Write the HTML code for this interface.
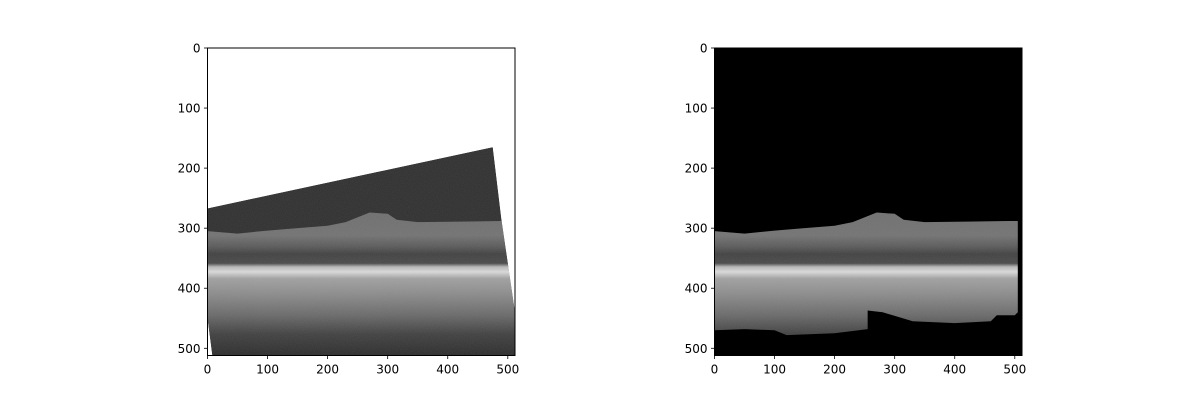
<!DOCTYPE html>
<html><head><meta charset="utf-8"><style>
html,body{margin:0;padding:0;background:#fff;width:1200px;height:400px;overflow:hidden}
text{font-family:"DejaVu Sans","Liberation Sans",sans-serif;font-size:12px;fill:#000}
</style></head><body>
<svg id="fig" width="1200" height="400" xmlns="http://www.w3.org/2000/svg">
<defs>
<linearGradient id="ret" gradientUnits="userSpaceOnUse" x1="0" y1="0" x2="0" y2="512">
<stop offset="0.53" stop-color="#6c6c6c"/><stop offset="0.61" stop-color="#707070"/>
<stop offset="0.645" stop-color="#575757"/><stop offset="0.67" stop-color="#3c3c3c"/>
<stop offset="0.7" stop-color="#454545"/><stop offset="0.712" stop-color="#b8b8b8"/>
<stop offset="0.728" stop-color="#dcdcdc"/><stop offset="0.75" stop-color="#a0a0a0"/>
<stop offset="0.8" stop-color="#8a8a8a"/><stop offset="0.87" stop-color="#666"/>
<stop offset="0.93" stop-color="#3c3c3c"/><stop offset="1" stop-color="#262626"/>
</linearGradient>
<filter id="noise" x="0" y="0" width="1" height="1"><feTurbulence type="fractalNoise" baseFrequency="0.9" numOctaves="1" seed="3" result="t"/><feColorMatrix in="t" type="matrix" values="0 0 0 0 0.5 0 0 0 0 0.5 0 0 0 0 0.5 0 0 0 0.5 0" result="n"/><feComposite in="n" in2="SourceAlpha" operator="in"/></filter>
<clipPath id="clipR"><rect x="0" y="0" width="512" height="512"/></clipPath>
<clipPath id="clipScan"><polygon id="scanClipPoly" points="0,0"/></clipPath>
</defs>
<g id="panelL"></g>
<g id="panelR"></g>
</svg>
<script>
// retina top boundary (image coords x,y)
const topX=[0,50,100,150,200,230,255,270,300,315,350,420,490,505];
const topY=[305,309,304,300,296,290,280,274,276,286,290,289,288,288];
// rotated scan quadrilateral (left image)
const scanX=[0,475,490,512,512,8,0];
const scanY=[267,165,290,440,512,512,450];
// right image bottom boundary of valid region
const botX=[505,500,470,460,400,330,280,255,255,200,120,100,50,0];
const botY=[440,445,445,455,458,455,440,437,468,475,478,470,468,470];
const ticks=[0,100,200,300,400,500];
const NS="http://www.w3.org/2000/svg";
const S=307.5/512;
function mk(tag,attrs,parent){const e=document.createElementNS(NS,tag);for(const k in attrs)e.setAttribute(k,attrs[k]);parent.appendChild(e);return e;}
function poly(xs,ys){return xs.map((x,i)=>x+','+ys[i]).join(' ');}
document.getElementById('scanClipPoly').setAttribute('points',poly(scanX,scanY));
function panel(g,ox,oy,right){
  const inner=mk('g',{transform:`translate(${ox},${oy}) scale(${S})`,'clip-path':right?'url(#clipR)':'url(#clipScan)'},g);
  
  
  let retinaPts;
  if(!right){
    const bg=mk('polygon',{points:poly(scanX,scanY),fill:'#2a2a2a'},inner);
    
    
    retinaPts=topX.map((x,i)=>x+','+topY[i]).join(' ')+' 512,440 512,512 8,512 0,450';
  } else {
    const bg=mk('rect',{x:0,y:0,width:512,height:512,fill:'#000'},inner);
    
    
    retinaPts=topX.map((x,i)=>x+','+topY[i]).join(' ')+' '+botX.map((x,i)=>x+','+botY[i]).join(' ');
  }
  const r=mk('polygon',{points:retinaPts,fill:'url(#ret)'},inner);
  
  
  const n=mk('polygon',{points:right?retinaPts:poly(scanX,scanY),fill:'#fff',filter:'url(#noise)',opacity:0.4},inner);
  
  
  const fr=mk('rect',{x:ox,y:oy,width:307.5,height:307.5,fill:'none',stroke:'#000','stroke-width':1},g);
  
  
  ticks.forEach(t=>{
    const px=ox+t*S, py=oy+t*S;
    mk('line',{x1:px,y1:oy+307.5,x2:px,y2:oy+311,stroke:'#000','stroke-width':0.8},g);
    const tx=mk('text',{x:px,y:oy+307.5+18,'text-anchor':'middle'},g);tx.textContent=t;
    
    
    mk('line',{x1:ox-3.5,y1:py,x2:ox,y2:py,stroke:'#000','stroke-width':0.8},g);
    const ty=mk('text',{x:ox-7,y:py+4.5,'text-anchor':'end'},g);ty.textContent=t;
    
    
  });
}
panel(document.getElementById('panelL'),207.5,48,false);
panel(document.getElementById('panelR'),714.5,48,true);
</script>
</body></html>
